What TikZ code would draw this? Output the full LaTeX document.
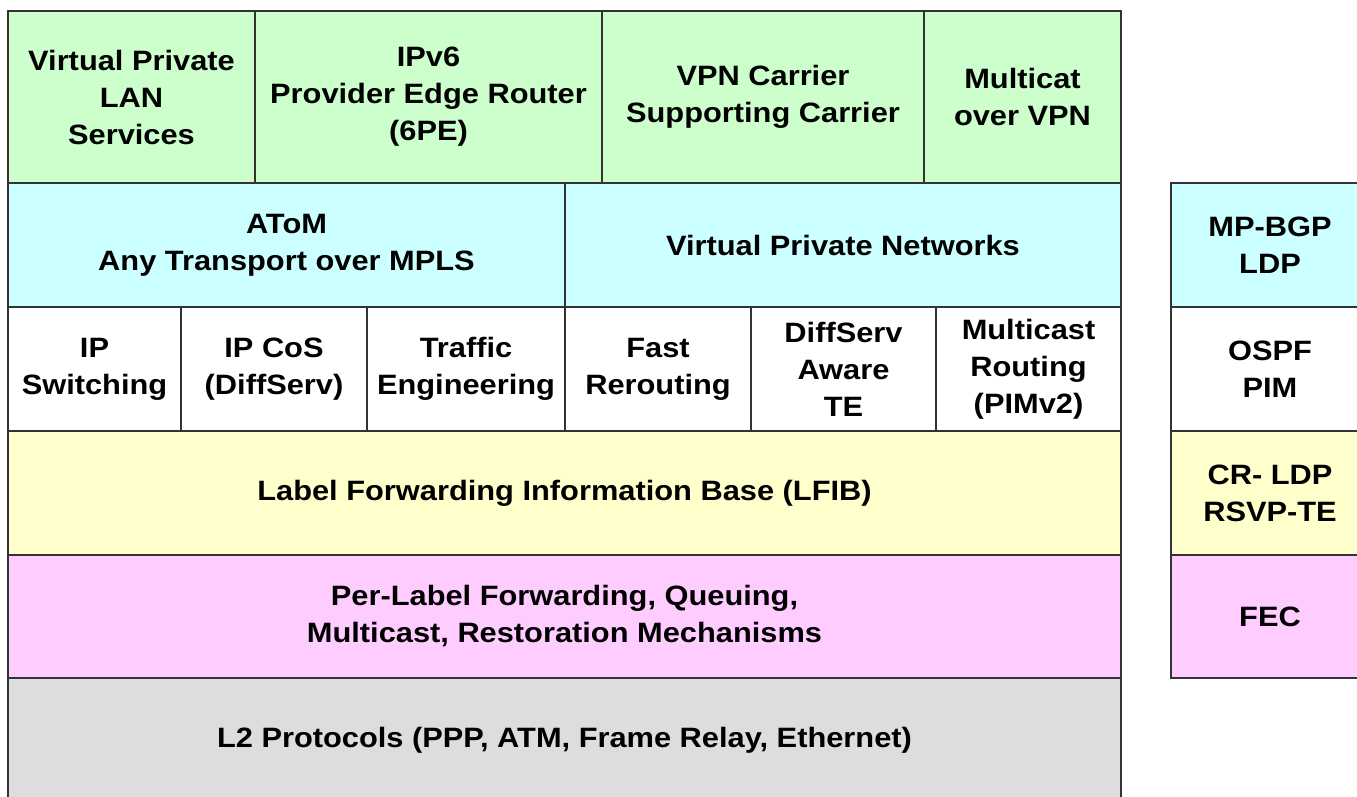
\documentclass[tikz,border=0pt]{standalone}
\usepackage{fontspec}
\setmainfont{Liberation Sans}[FakeStretch=1.1]
\definecolor{layergreen}{HTML}{CCFFCC}
\definecolor{layercyan}{HTML}{CCFFFF}
\definecolor{layeryellow}{HTML}{FFFFCC}
\definecolor{layerpink}{HTML}{FFCCFF}
\definecolor{layergray}{HTML}{DDDDDD}
\definecolor{edgegray}{HTML}{333333}
\tikzset{
  cell/.style={draw=edgegray, line width=1.3pt, inner sep=0pt, outer sep=0pt,
    align=center, font=\bfseries\fontsize{28}{37}\selectfont, text=black},
}
% \cellbox{name}{x0}{y0}{x1}{y1}{fill}{text}
\newcommand{\cellbox}[7]{%
  \pgfmathsetmacro{\cw}{#4-#2}\pgfmathsetmacro{\ch}{#5-#3}%
  \node[cell, fill=#6, minimum width=\cw pt, minimum height=\ch pt]
    (#1) at ({(#2+#4)/2},{(#3+#5)/2}) {#7};}
\begin{document}
\begin{tikzpicture}[x=1pt,y=-1pt]
\useasboundingbox (0,0) rectangle (1357,796);
\clip (0,0) rectangle (1357,796);
% applications
\cellbox{vpls}{8}{11}{255}{183}{layergreen}{Virtual Private\\LAN\\Services}
\cellbox{sixpe}{255}{11}{602}{183}{layergreen}{IPv6\\Provider Edge Router\\(6PE)}
\cellbox{csc}{602}{11}{924}{183}{layergreen}{VPN Carrier\\Supporting Carrier}
\cellbox{mvpn}{924}{11}{1121}{183}{layergreen}{Multicat\\over VPN}
% services
\cellbox{atom}{8}{183}{565}{307}{layercyan}{AToM\\Any Transport over MPLS}
\cellbox{vpn}{565}{183}{1121}{307}{layercyan}{Virtual Private Networks}
% control functions
\cellbox{ipsw}{8}{307}{181}{431}{white}{IP\\Switching}
\cellbox{ipcos}{181}{307}{367}{431}{white}{IP CoS\\(DiffServ)}
\cellbox{te}{367}{307}{565}{431}{white}{Traffic\\Engineering}
\cellbox{frr}{565}{307}{751}{431}{white}{Fast\\Rerouting}
\cellbox{dste}{751}{307}{936}{431}{white}{DiffServ\\Aware\\TE}
\cellbox{mcast}{936}{307}{1121}{431}{white}{Multicast\\Routing\\(PIMv2)}
% forwarding layers
\cellbox{lfib}{8}{431}{1121}{555}{layeryellow}{Label Forwarding Information Base (LFIB)}
\cellbox{fwd}{8}{555}{1121}{678}{layerpink}{Per-Label Forwarding, Queuing,\\Multicast, Restoration Mechanisms}
\cellbox{ltwo}{8}{678}{1121}{802}{layergray}{L2 Protocols (PPP, ATM, Frame Relay, Ethernet)}
% protocols column
\cellbox{bgp}{1171}{183}{1369}{307}{layercyan}{MP-BGP\\LDP}
\cellbox{ospf}{1171}{307}{1369}{431}{white}{OSPF\\PIM}
\cellbox{rsvp}{1171}{431}{1369}{555}{layeryellow}{CR- LDP\\RSVP-TE}
\cellbox{fec}{1171}{555}{1369}{678}{layerpink}{FEC}
\end{tikzpicture}
\end{document}
